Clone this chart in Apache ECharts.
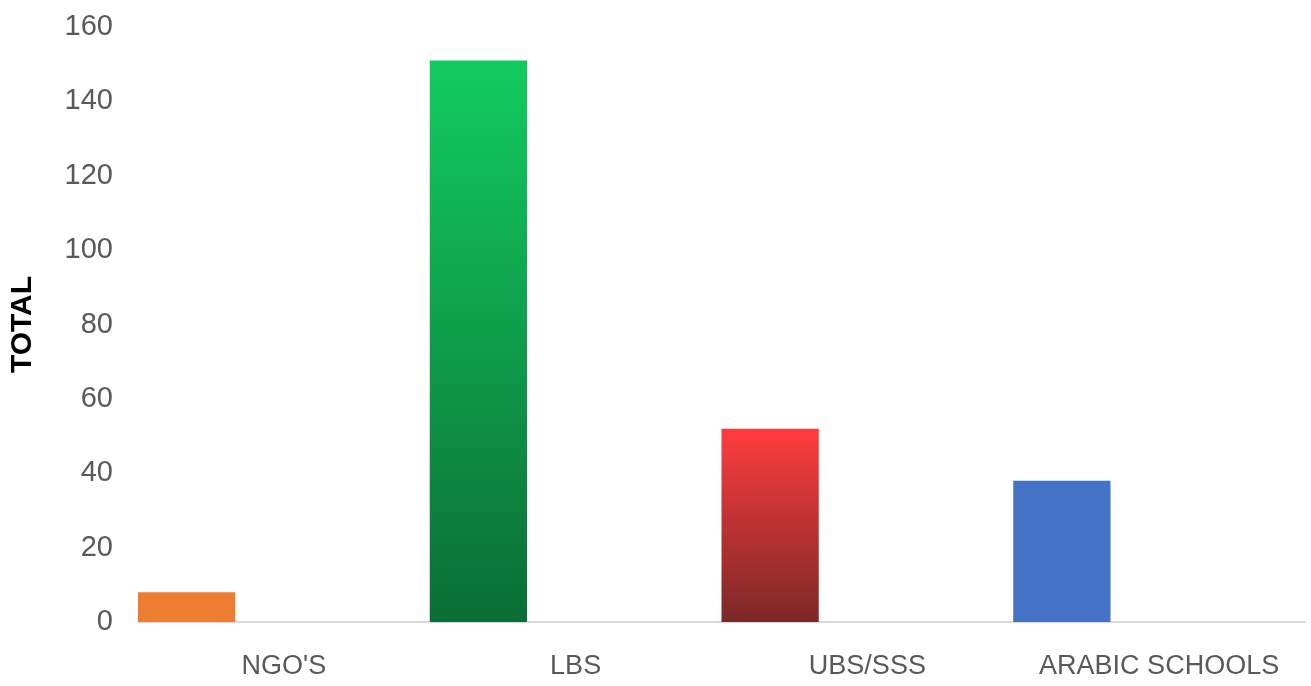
<!DOCTYPE html>
<html>
<head>
<meta charset="utf-8">
<script src="https://cdn.jsdelivr.net/npm/echarts@6/dist/echarts.min.js"></script>
<style>html,body{margin:0;padding:0;background:#fff;}#chart{width:1311px;height:686px;}</style>
</head>
<body>
<div id="chart"></div>
<script>
const categories = ["NGO'S", "LBS", "UBS/SSS", "ARABIC SCHOOLS"];
const totals = [8, 151, 52, 38];
const yTicks = [0, 20, 40, 60, 80, 100, 120, 140, 160];
const barColors = [
  '#ED7D31',
  {type:'linear',x:0,y:0,x2:0,y2:1,colorStops:[{offset:0,color:'#12CC60'},{offset:1,color:'#0B6D35'}]},
  {type:'linear',x:0,y:0,x2:0,y2:1,colorStops:[{offset:0,color:'#FF3C3C'},{offset:1,color:'#7C2828'}]},
  '#4472C4'
];
const chart = echarts.init(document.getElementById('chart'));
chart.setOption({
  animation:false,
  grid:{left:137,right:6,top:27,bottom:64,containLabel:false},
  xAxis:{type:'category',data:categories,
    axisLine:{lineStyle:{color:'#D9D9D9',width:2}},axisTick:{show:false},
    axisLabel:{color:'#595959',fontSize:27,interval:0,fontFamily:'Liberation Sans, Arial, sans-serif',margin:31}},
  yAxis:{type:'value',min:yTicks[0],max:yTicks[yTicks.length-1],interval:20,
    name:'TOTAL',nameLocation:'middle',nameGap:100,
    nameTextStyle:{color:'#000',fontWeight:'bold',fontSize:30,fontFamily:'Liberation Sans, Arial, sans-serif'},
    axisLine:{show:false},axisTick:{show:false},splitLine:{show:false},
    axisLabel:{color:'#595959',fontSize:29,fontFamily:'Liberation Sans, Arial, sans-serif',margin:25}},
  series:[
    {type:'bar',barGap:0,barCategoryGap:0,
     data:totals.map((v,i)=>({value:v,itemStyle:{color:barColors[i]}}))},
    {type:'bar',barGap:0,barCategoryGap:0,data:categories.map(()=>null)},
    {type:'bar',barGap:0,barCategoryGap:0,data:categories.map(()=>null)}
  ]
});
</script>
</body>
</html>
